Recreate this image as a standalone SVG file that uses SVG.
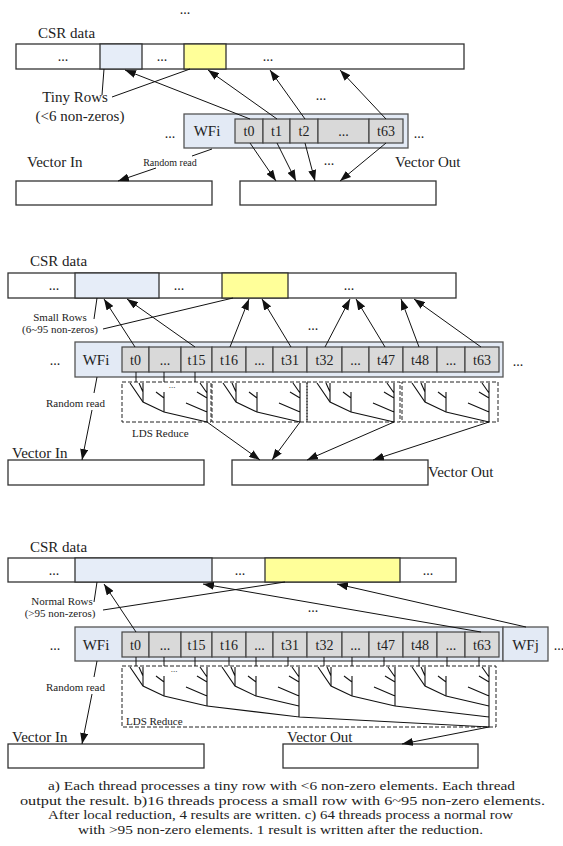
<svg xmlns="http://www.w3.org/2000/svg" xmlns:xlink="http://www.w3.org/1999/xlink" width="563" height="846" viewBox="0 0 563 846">
<style>
text{font-family:"Liberation Serif","Times New Roman",serif;fill:#222}
.lbl{font-size:15px}
.sm{font-size:11px}
.xs{font-size:10px}
.th{font-size:14px;text-anchor:middle}
.c{text-anchor:middle}
.box{fill:#fff;stroke:#333;stroke-width:1.3}
.wf{fill:#e3eaf5;stroke:#555;stroke-width:1.3}
.cell{fill:#d9d9d9;stroke:#444;stroke-width:1.2}
.blue{fill:#e6edf8;stroke:#333;stroke-width:1.3}
.yel{fill:#ffff99;stroke:#333;stroke-width:1.3}
.ln{fill:none;stroke:#111;stroke-width:1}
.ar{fill:none;stroke:#111;stroke-width:1;marker-end:url(#ah)}
.dash{fill:none;stroke:#222;stroke-width:1;stroke-dasharray:4,2}
.tr{fill:none;stroke:#111;stroke-width:1.1}
.cap{font-size:13px}
</style>
<defs>
<marker id="ah" viewBox="0 0 10 10" refX="10" refY="5" markerWidth="11" markerHeight="8" markerUnits="userSpaceOnUse" orient="auto" preserveAspectRatio="none">
<path d="M0,0 L10,5 L0,10 z" fill="#111"/>
</marker>
<g id="tree" class="tr">
<polyline points="9,1 22,20 43,30 86,40"/>
<path d="M22,1 V20 M18,1 L22,10 M43,10 V30 M35,10 L43,16 M86,1 V40 M79,1 L86,11 M76,10 L86,16 M65,21 L86,30"/>
</g>
</defs>

<!-- ================= Section a ================= -->
<g id="a-top-dots"><text class="th" x="185" y="14">...</text></g>
<g id="a-csr">
<text class="lbl" x="38" y="38">CSR data</text>
<rect class="box" x="16" y="44" width="448" height="25"/>
<rect class="blue" x="100" y="44" width="42" height="25"/>
<rect class="yel" x="184" y="44" width="42" height="25"/>
<text class="th" x="63" y="61">...</text>
<text class="th" x="162" y="61">...</text>
<text class="th" x="268" y="61">...</text>
</g>
<g id="a-tiny">
<text class="lbl c" x="75" y="102">Tiny Rows</text>
<text class="lbl c" x="80" y="121">(&lt;6 non-zeros)</text>
</g>
<g id="a-wf">
<text class="th" x="170" y="138">...</text>
<rect class="wf" x="184" y="114" width="224" height="34"/>
<text class="lbl c" x="207" y="136">WFi</text>
<rect class="cell" x="235" y="119" width="28" height="24"/>
<rect class="cell" x="263" y="119" width="27" height="24"/>
<rect class="cell" x="290" y="119" width="28" height="24"/>
<rect class="cell" x="318" y="119" width="51" height="24"/>
<rect class="cell" x="369" y="119" width="34" height="24"/>
<text class="th" x="249" y="136">t0</text>
<text class="th" x="276.5" y="136">t1</text>
<text class="th" x="304" y="136">t2</text>
<text class="th" x="343.5" y="136">...</text>
<text class="th" x="386" y="136">t63</text>
<text class="th" x="419" y="138">...</text>
</g>
<g id="a-vin">
<text class="lbl" x="27" y="167">Vector In</text>
<rect class="box" x="16" y="181" width="196" height="24"/>
</g>
<g id="a-vout">
<text class="lbl" x="395" y="167">Vector Out</text>
<rect class="box" x="240" y="181" width="196" height="24"/>
</g>
<g id="a-labels">
<text class="xs c" x="170" y="166">Random read</text>
<text class="th" x="321" y="100">...</text>
<text class="th" x="329" y="165">...</text>
</g>
<g id="a-connectors">
<path class="ln" d="M104,69 L102,95 M190,69 L112,97"/>
<path class="ar" d="M250,119 L125,70"/>
<path class="ar" d="M277,119 L208,70"/>
<path class="ar" d="M305,119 L270,70"/>
<path class="ar" d="M386,119 L340,70"/>
<path class="ar" d="M250,143 L276,181"/>
<path class="ar" d="M277,143 L296,181"/>
<path class="ar" d="M305,143 L315,181"/>
<path class="ar" d="M386,143 L340,181"/>
<path class="ln" d="M212,149 L192,156"/>
<path class="ar" d="M156,168 L118,181"/>
</g>

<!-- ================= Section b ================= -->
<g id="b-csr">
<text class="lbl" x="30" y="266">CSR data</text>
<rect class="box" x="8" y="273" width="448" height="25"/>
<rect class="blue" x="75" y="273" width="84" height="25"/>
<rect class="yel" x="222" y="273" width="66" height="25"/>
<text class="th" x="54" y="290">...</text>
<text class="th" x="179" y="290">...</text>
<text class="th" x="349" y="290">...</text>
</g>
<g id="b-small">
<text class="sm c" x="60" y="321">Small Rows</text>
<text class="sm c" x="60" y="333">(6~95 non-zeros)</text>
</g>
<g id="b-wf">
<text class="th" x="55" y="365">...</text>
<rect class="wf" x="75" y="342" width="428" height="35"/>
<text class="lbl c" x="96" y="365">WFi</text>
<rect class="cell" x="122" y="347" width="27" height="25"/>
<rect class="cell" x="149" y="347" width="32" height="25"/>
<rect class="cell" x="181" y="347" width="31" height="25"/>
<rect class="cell" x="212" y="347" width="34" height="25"/>
<rect class="cell" x="246" y="347" width="27" height="25"/>
<rect class="cell" x="273" y="347" width="34" height="25"/>
<rect class="cell" x="307" y="347" width="35" height="25"/>
<rect class="cell" x="342" y="347" width="27" height="25"/>
<rect class="cell" x="369" y="347" width="34" height="25"/>
<rect class="cell" x="403" y="347" width="34" height="25"/>
<rect class="cell" x="437" y="347" width="28" height="25"/>
<rect class="cell" x="465" y="347" width="34" height="25"/>
<text class="th" x="135.5" y="365">t0</text>
<text class="th" x="165" y="365">...</text>
<text class="th" x="196.5" y="365">t15</text>
<text class="th" x="229" y="365">t16</text>
<text class="th" x="259.5" y="365">...</text>
<text class="th" x="290" y="365">t31</text>
<text class="th" x="324.5" y="365">t32</text>
<text class="th" x="355.5" y="365">...</text>
<text class="th" x="386" y="365">t47</text>
<text class="th" x="420" y="365">t48</text>
<text class="th" x="451" y="365">...</text>
<text class="th" x="482" y="365">t63</text>
<text class="th" x="518" y="366">...</text>
</g>
<g id="b-reduce">
<rect class="dash" x="122" y="382" width="89" height="40"/>
<rect class="dash" x="212" y="382" width="95" height="40"/>
<rect class="dash" x="307" y="382" width="93" height="40"/>
<rect class="dash" x="402" y="382" width="96" height="40"/>
<use xlink:href="#tree" href="#tree" x="121" y="382"/>
<use xlink:href="#tree" href="#tree" x="214" y="382"/>
<use xlink:href="#tree" href="#tree" x="308" y="382"/>
<use xlink:href="#tree" href="#tree" x="403" y="382"/>
<path class="ln" d="M136,372 V382 M164,372 V382 M195,372 V382"/>
<text class="th" x="172" y="388" style="font-size:9px">...</text>
<text class="sm" x="132" y="437">LDS Reduce</text>
</g>
<g id="b-vin">
<text class="lbl" x="12" y="458">Vector In</text>
<rect class="box" x="8" y="460" width="196" height="25"/>
</g>
<g id="b-vout">
<rect class="box" x="232" y="460" width="196" height="25"/>
<text class="lbl" x="428" y="477">Vector Out</text>
</g>
<g id="b-labels">
<text class="sm" x="46" y="407">Random read</text>
<text class="th" x="313" y="330">...</text>
</g>
<g id="b-connectors">
<path class="ln" d="M97,298 L94,319 M233,298 L103,329"/>
<path class="ar" d="M135,347 L104,299"/>
<path class="ar" d="M195,347 L127,299"/>
<path class="ar" d="M230,347 L249,299"/>
<path class="ar" d="M291,347 L262,299"/>
<path class="ar" d="M325,347 L350,299"/>
<path class="ar" d="M385,347 L356,299"/>
<path class="ar" d="M419,347 L401,299"/>
<path class="ar" d="M481,347 L414,299"/>
<path class="ar" d="M207,422 L260,460"/>
<path class="ar" d="M300,422 L272,460"/>
<path class="ar" d="M394,422 L307,460"/>
<path class="ar" d="M489,422 L373,460"/>
<path class="ln" d="M97,377 L94,393"/>
<path class="ar" d="M92,410 L82,460"/>
</g>

<!-- ================= Section c ================= -->
<g id="c-csr">
<text class="lbl" x="30" y="552">CSR data</text>
<rect class="box" x="8" y="558" width="448" height="24"/>
<rect class="blue" x="75" y="558" width="137" height="24"/>
<rect class="yel" x="265" y="558" width="135" height="24"/>
<text class="th" x="54" y="575">...</text>
<text class="th" x="240" y="575">...</text>
<text class="th" x="428" y="575">...</text>
</g>
<g id="c-normal">
<text class="sm c" x="62" y="605">Normal Rows</text>
<text class="sm c" x="60" y="617">(&gt;95 non-zeros)</text>
</g>
<g id="c-wfi">
<text class="th" x="55" y="650">...</text>
<rect class="wf" x="75" y="627" width="428" height="34"/>
<text class="lbl c" x="96" y="650">WFi</text>
<rect class="cell" x="122" y="632" width="27" height="25"/>
<rect class="cell" x="149" y="632" width="32" height="25"/>
<rect class="cell" x="181" y="632" width="31" height="25"/>
<rect class="cell" x="212" y="632" width="34" height="25"/>
<rect class="cell" x="246" y="632" width="27" height="25"/>
<rect class="cell" x="273" y="632" width="34" height="25"/>
<rect class="cell" x="307" y="632" width="35" height="25"/>
<rect class="cell" x="342" y="632" width="27" height="25"/>
<rect class="cell" x="369" y="632" width="34" height="25"/>
<rect class="cell" x="403" y="632" width="34" height="25"/>
<rect class="cell" x="437" y="632" width="28" height="25"/>
<rect class="cell" x="465" y="632" width="34" height="25"/>
<text class="th" x="135.5" y="650">t0</text>
<text class="th" x="165" y="650">...</text>
<text class="th" x="196.5" y="650">t15</text>
<text class="th" x="229" y="650">t16</text>
<text class="th" x="259.5" y="650">...</text>
<text class="th" x="290" y="650">t31</text>
<text class="th" x="324.5" y="650">t32</text>
<text class="th" x="355.5" y="650">...</text>
<text class="th" x="386" y="650">t47</text>
<text class="th" x="420" y="650">t48</text>
<text class="th" x="451" y="650">...</text>
<text class="th" x="482" y="650">t63</text>
</g>
<g id="c-wfj">
<rect class="wf" x="503" y="627" width="45" height="34"/>
<text class="lbl c" x="525.5" y="650">WFj</text>
<text class="th" x="559" y="650">...</text>
</g>
<g id="c-reduce">
<rect class="dash" x="122" y="666" width="374" height="61"/>
<path class="ln" d="M136,657 V666 M164,657 V666 M195,657 V666 M229,657 V666 M256,657 V666 M288,657 V666 M324,657 V666 M352,657 V666 M384,657 V666 M419,657 V666 M447,657 V666 M479,657 V666"/>
<use xlink:href="#tree" href="#tree" x="121" y="666"/>
<use xlink:href="#tree" href="#tree" x="213" y="666"/>
<use xlink:href="#tree" href="#tree" x="309" y="666"/>
<use xlink:href="#tree" href="#tree" x="403" y="666"/>
<path class="tr" d="M207,706 L299,717 V706 M395,706 L489,717 M299,717 L489,727 V706"/>
<text class="th" x="174" y="672" style="font-size:9px">...</text>
<text class="sm" x="126" y="725">LDS Reduce</text>
</g>
<g id="c-vin">
<text class="lbl" x="12" y="742">Vector In</text>
<rect class="box" x="8" y="744" width="196" height="24"/>
</g>
<g id="c-vout">
<text class="lbl" x="287" y="742">Vector Out</text>
<rect class="box" x="283" y="744" width="195" height="24"/>
</g>
<g id="c-labels">
<text class="sm" x="46" y="691">Random read</text>
<text class="th" x="313" y="612">...</text>
</g>
<g id="c-connectors">
<path class="ln" d="M97,582 L94,602 M103,610 L285,582"/>
<path class="ar" d="M136,632 L104,584"/>
<path class="ar" d="M481,632 L203,584"/>
<path class="ar" d="M526,627 L337,584"/>
<path class="ar" d="M489,727 L402,744"/>
<path class="ln" d="M97,661 L94,677"/>
<path class="ar" d="M92,694 L82,744"/>
</g>

<g id="caption">
<text class="cap" x="48" y="790" textLength="467" lengthAdjust="spacingAndGlyphs">a) Each thread processes a tiny row with &lt;6 non-zero elements. Each thread</text>
<text class="cap" x="20" y="804.5" textLength="525" lengthAdjust="spacingAndGlyphs">output the result. b)16 threads process a small row with 6~95 non-zero elements.</text>
<text class="cap" x="48" y="819" textLength="465" lengthAdjust="spacingAndGlyphs">After local reduction, 4 results are written. c) 64 threads process a normal row</text>
<text class="cap" x="78" y="833.5" textLength="405" lengthAdjust="spacingAndGlyphs">with &gt;95 non-zero elements. 1 result is written after the reduction.</text>
</g>
</svg>
